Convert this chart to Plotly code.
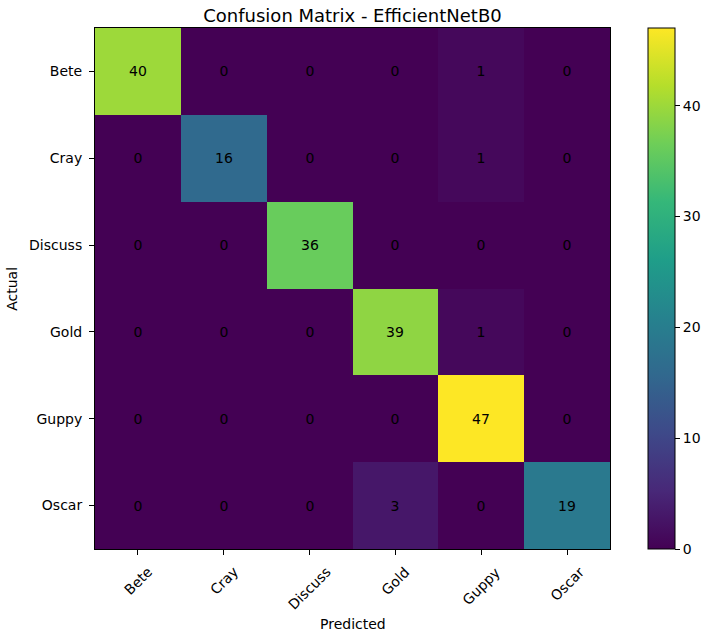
import plotly.graph_objects as go

classes = ['Bete', 'Cray', 'Discuss', 'Gold', 'Guppy', 'Oscar']

# rows = actual, columns = predicted
cm = [
    [40, 0, 0, 0, 1, 0],
    [0, 16, 0, 0, 1, 0],
    [0, 0, 36, 0, 0, 0],
    [0, 0, 0, 39, 1, 0],
    [0, 0, 0, 0, 47, 0],
    [0, 0, 0, 3, 0, 19],
]
cbar_ticks = [0, 10, 20, 30, 40]

font = 'DejaVu Sans'
ink = 'black'
W, H = 714, 636
L, R, T, B = 95, 99, 28, 87
pw, ph = W - L - R, H - T - B

fig = go.Figure(go.Heatmap(
    z=cm, x=classes, y=classes,
    colorscale='Viridis', zmin=0, zmax=max(max(r) for r in cm),
    text=cm, texttemplate='%{text}',
    textfont=dict(family=font, size=14, color=ink),
    hoverinfo='skip',
    colorbar=dict(
        x=(653.5 - L) / pw, xanchor='left', xpad=0, ypad=0,
        y=0, yanchor='bottom', len=1, lenmode='fraction',
        thickness=27, outlinewidth=1, outlinecolor='black',
        ticks='outside', ticklen=5, tickcolor='black',
        tickvals=cbar_ticks,
        tickfont=dict(family=font, size=14, color=ink),
    ),
))

# rotated x tick labels, centred on each tick like matplotlib does
for c in classes:
    fig.add_annotation(
        x=c, xref='x', y=0, yref='paper', yshift=-12,
        text=c, textangle=-45, showarrow=False,
        xanchor='center', yanchor='top',
        font=dict(family=font, size=14, color=ink),
    )

# axis titles
fig.add_annotation(text='Predicted', xref='paper', yref='paper',
                   x=0.5, y=-(624 - (H - B)) / ph, xanchor='center', yanchor='middle',
                   showarrow=False, font=dict(family=font, size=14, color=ink))
fig.add_annotation(text='Actual', xref='paper', yref='paper', textangle=-90,
                   x=-(L - 10.5) / pw, y=0.5, xanchor='center', yanchor='middle',
                   showarrow=False, font=dict(family=font, size=14, color=ink))

fig.update_layout(
    width=W, height=H,
    margin=dict(l=L, r=R, t=T, b=B),
    plot_bgcolor='white', paper_bgcolor='white',
    font=dict(family=font, size=14, color=ink),
    title=dict(text='Confusion Matrix - EfficientNetB0', x=0.5, xref='paper',
               y=1, yref='paper', yanchor='bottom', pad=dict(b=6),
               font=dict(family=font, size=18, color=ink)),
    xaxis=dict(showticklabels=False, ticks='outside', ticklen=5, tickcolor='black',
               showline=True, mirror=True, linecolor='black', linewidth=1,
               showgrid=False, zeroline=False),
    yaxis=dict(autorange='reversed', ticks='outside', ticklen=5, tickcolor='black',
               ticklabelstandoff=4,
               showline=True, mirror=True, linecolor='black', linewidth=1,
               showgrid=False, zeroline=False),
)

# drop the browser's default 8px body margin so the figure sits at the window corner
fig.write_html('out.html', config={'displayModeBar': False},
               post_script="document.body.style.margin='0';")
